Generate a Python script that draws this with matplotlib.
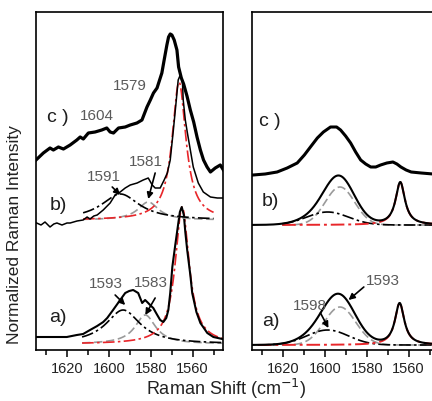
import numpy as np
import matplotlib
matplotlib.use('Agg')
import matplotlib.pyplot as plt
from matplotlib.ticker import MultipleLocator

plt.rcParams['font.family'] = ['Liberation Sans', 'DejaVu Sans']

# ---- left panel, measured spectra (Raman shift, intensity) ----
a_left_x = [1634.5, 1628.1, 1620.1, 1615.3, 1612.3, 1609.0, 1605.6, 1602.7, 1600.8, 1598.0,
            1594.6, 1592.2, 1590.3, 1588.4, 1586.0, 1584.1, 1582.7, 1581.7, 1580.3, 1578.8,
            1576.9, 1575.5, 1574.0, 1572.6, 1571.6, 1570.7, 1569.7, 1568.3, 1567.3, 1566.1,
            1565.2, 1564.2, 1563.5, 1562.6, 1561.1, 1560.2, 1558.2, 1556.3, 1553.0, 1550.1, 1545.8]
a_left_y = [13, 13, 13, 15, 16, 20, 24, 28, 32, 40,
            50, 57, 59, 60, 57, 47, 50, 48, 45, 42,
            35, 30, 28, 32, 40, 57, 83, 105, 120, 138,
            143, 135, 118, 100, 75, 57, 38, 27, 17, 13, 11]

b_left_x = [1634.5, 1632.4, 1630.5, 1628.1, 1626.3, 1624.8, 1622.4, 1620.0, 1618.5, 1615.2,
            1612.3, 1610.4, 1609.0, 1607.2, 1605.6, 1602.7, 1599.4, 1597.0, 1594.6, 1592.2,
            1589.8, 1586.5, 1583.6, 1581.2, 1579.3, 1577.9, 1575.5, 1573.6, 1572.1, 1570.7,
            1569.2, 1567.8, 1566.9, 1565.9, 1564.9, 1564.5, 1563.5, 1562.5, 1561.1, 1559.7,
            1557.3, 1554.9, 1551.5, 1548.2, 1545.8]
b_left_y = [127, 125, 128, 123, 126, 127, 125, 127, 127, 129,
            130, 133, 131, 134, 135, 140, 147, 155, 158, 162,
            165, 167, 170, 172, 165, 162, 162, 170, 177, 190,
            220, 250, 270, 275, 270, 250, 230, 217, 200, 183,
            167, 158, 153, 152, 152]

c_left_x = [1634.8, 1631.3, 1628.1, 1626.5, 1624.1, 1621.7, 1618.5, 1615.3, 1613.7, 1612.2,
            1609.8, 1606.6, 1603.4, 1601.0, 1599.4, 1597.8, 1595.4, 1592.2, 1589.8, 1586.6,
            1584.2, 1581.8, 1580.2, 1578.7, 1577.0, 1574.7, 1573.6, 1572.3, 1571.5, 1570.7,
            1569.9, 1568.8, 1567.5, 1566.7, 1565.4, 1564.3, 1562.7, 1561.1, 1559.5, 1557.9,
            1556.3, 1554.8, 1553.1, 1551.5, 1549.2, 1546.8, 1545.3]
c_left_y = [190, 197, 202, 200, 203, 201, 205, 210, 213, 211,
            217, 218, 220, 222, 218, 217, 222, 223, 225, 227,
            230, 243, 250, 257, 262, 277, 290, 305, 313, 316,
            315, 310, 300, 283, 272, 266, 254, 240, 228, 213,
            200, 190, 183, 178, 182, 185, 180]

# ---- right panel, c) spectrum ----
c_right_x = [1634.3, 1628.5, 1622.8, 1618.0, 1613.2, 1609.8, 1606.9, 1603.6, 1600.7, 1597.3,
             1594.4, 1592.5, 1590.1, 1587.7, 1585.3, 1582.9, 1580.5, 1578.1, 1575.7, 1573.4,
             1570.4, 1567.5, 1565.6, 1563.7, 1561.2, 1558.8, 1554.0, 1548.3, 1544.5]
c_right_y = [175, 176, 178, 182, 187, 195, 203, 212, 218, 223,
             223, 220, 214, 207, 198, 190, 186, 183, 183, 185,
             187, 188, 186, 183, 180, 178, 177, 176, 176]

# ---- fitted bands: (centre, height, width), plus baseline ----
a_left_base = 6
a_left_bands = {'dd': (1593.2, 34, 10.0), 'gray': (1582.6, 29, 6.0), 'red': (1565.0, 137, 4.0)}
b_left_base = 130
b_left_bands = {'dd': (1594.5, 26, 11.0), 'gray': (1581.2, 18, 6.0), 'red': (1566.5, 138, 4.0)}
a_right_base = 5
a_right_bands = {'dd': (1598.7, 15, 10.0), 'gray': (1592.8, 38, 7.5), 'red': (1564.3, 42, 2.7)}
b_right_base = 125
b_right_bands = {'dd': (1598.7, 13, 10.0), 'gray': (1592.8, 38, 7.0), 'red': (1564.0, 43, 2.7)}


def lor(x, c, h, w):
    return h / (1 + ((x - c) / w) ** 2)


def gau(x, c, h, s):
    return h * np.exp(-(x - c) ** 2 / (2 * s ** 2))


XMAX, XMIN = 1634.8, 1545.5
DD = (0, (7, 2, 1.5, 2))
GR = (0, (5, 2.2))
TXT = '#5a5a5a'
LAB = '#1e1e1e'

fig = plt.figure(figsize=(4.32, 4.01), dpi=100)
axl = fig.add_axes([36 / 432, 51 / 401, 187 / 432, 338 / 401])
axr = fig.add_axes([252 / 432, 51 / 401, 187 / 432, 338 / 401])

# left panel
ax = axl
x = np.linspace(1612.8, 1545.8, 500)
p = a_left_bands
ax.plot(x, a_left_base + lor(x, *p['gray']), color='#9a9a9a', lw=1.2, ls=GR)
ax.plot(x, a_left_base + lor(x, *p['dd']), color='k', lw=1.2, ls=DD)
ax.plot(x, a_left_base + lor(x, *p['red']), color='#e8262a', lw=1.2, ls=DD)
ax.plot(a_left_x, a_left_y, color='k', lw=1.5)

x = np.linspace(1612.3, 1550.0, 500)
p = b_left_bands
ax.plot(x, b_left_base + lor(x, *p['gray']), color='#9a9a9a', lw=1.2, ls=GR)
ax.plot(x, b_left_base + lor(x, *p['dd']), color='k', lw=1.2, ls=DD)
ax.plot(x, b_left_base + lor(x, *p['red']), color='#e8262a', lw=1.2, ls=DD)
ax.plot(b_left_x, b_left_y, color='k', lw=1.1)

ax.plot(c_left_x, c_left_y, color='k', lw=2.3)

ax.text(1624.3, 232, 'c )', fontsize=14, color=LAB, ha='center', va='center')
ax.text(1624.3, 145, 'b)', fontsize=14, color=LAB, ha='center', va='center')
ax.text(1624.3, 32, 'a)', fontsize=14, color=LAB, ha='center', va='center')
ax.text(1605.6, 234, '1604', fontsize=11, color=TXT, ha='center', va='center')
ax.text(1590.1, 264, '1579', fontsize=11, color=TXT, ha='center', va='center')
ax.text(1602.3, 173, '1591', fontsize=11, color=TXT, ha='center', va='center')
ax.text(1582.2, 188, '1581', fontsize=11, color=TXT, ha='center', va='center')
ax.text(1601.3, 66, '1593', fontsize=11, color=TXT, ha='center', va='center')
ax.text(1579.8, 67, '1583', fontsize=11, color=TXT, ha='center', va='center')

arr = dict(arrowstyle='-|>', color='k', lw=1.2, mutation_scale=9, shrinkA=0, shrinkB=0)
ax.annotate('', xy=(1594.6, 155), xytext=(1598.4, 163), arrowprops=arr)
ax.annotate('', xy=(1581.2, 151), xytext=(1577.9, 177), arrowprops=arr)
ax.annotate('', xy=(1592.2, 45), xytext=(1597.0, 55), arrowprops=arr)
ax.annotate('', xy=(1582.6, 35), xytext=(1577.9, 52), arrowprops=arr)

# right panel
ax = axr
xs = np.linspace(XMAX, 1544.0, 600)
x = np.linspace(1632.0, 1544.0, 600)
p = a_right_bands
ax.plot(x, a_right_base + gau(x, *p['gray']), color='#9a9a9a', lw=1.2, ls=GR)
ax.plot(x, a_right_base + gau(x, *p['dd']), color='k', lw=1.2, ls=DD)
ax.plot(x, a_right_base + lor(x, *p['red']), color='#e8262a', lw=1.4, ls=DD)
tot = a_right_base + gau(xs, *p['gray']) + gau(xs, *p['dd']) + lor(xs, *p['red'])
ax.plot(xs, tot, color='k', lw=1.5)

x = np.linspace(1620.4, 1544.0, 600)
p = b_right_bands
ax.plot(x, b_right_base + gau(x, *p['gray']), color='#9a9a9a', lw=1.2, ls=GR)
ax.plot(x, b_right_base + gau(x, *p['dd']), color='k', lw=1.2, ls=DD)
ax.plot(x, b_right_base + lor(x, *p['red']), color='#e8262a', lw=1.4, ls=DD)
tot = b_right_base + gau(xs, *p['gray']) + gau(xs, *p['dd']) + lor(xs, *p['red'])
ax.plot(xs, tot, color='k', lw=1.5)

ax.plot(c_right_x, c_right_y, color='k', lw=2.2)

ax.text(1626.1, 229, 'c )', fontsize=14, color=LAB, ha='center', va='center')
ax.text(1626.1, 149, 'b)', fontsize=14, color=LAB, ha='center', va='center')
ax.text(1625.7, 28, 'a)', fontsize=14, color=LAB, ha='center', va='center')
ax.text(1572.3, 69, '1593', fontsize=11, color=TXT, ha='center', va='center')
ax.text(1607.4, 44, '1598', fontsize=11, color=TXT, ha='center', va='center')
ax.annotate('', xy=(1588.7, 50), xytext=(1581.4, 63), arrowprops=arr)
ax.annotate('', xy=(1598.3, 22), xytext=(1602.1, 37), arrowprops=arr)

for ax in (axl, axr):
    ax.set_xlim(XMAX, XMIN)
    ax.set_ylim(0, 338)
    ax.set_yticks([])
    ax.set_xticks([1620, 1600, 1580, 1560])
    ax.xaxis.set_minor_locator(MultipleLocator(10))
    ax.tick_params(axis='x', which='major', direction='out', length=5, width=1.1,
                   labelsize=10.5, labelcolor='#222222', pad=3.5)
    ax.tick_params(axis='x', which='minor', direction='out', length=3.5, width=1.1)
    for s in ax.spines.values():
        s.set_linewidth(1.2)

fig.text(226 / 432, 1 - 389 / 401, 'Raman Shift (cm$^{-1}$)', fontsize=13, color='#222222',
         ha='center', va='center')
fig.text(15 / 432, 1 - 235 / 401, 'Normalized Raman Intensity', fontsize=12.5, color='#222222',
         ha='center', va='center', rotation=90)

fig.savefig('out.png', dpi=100)
